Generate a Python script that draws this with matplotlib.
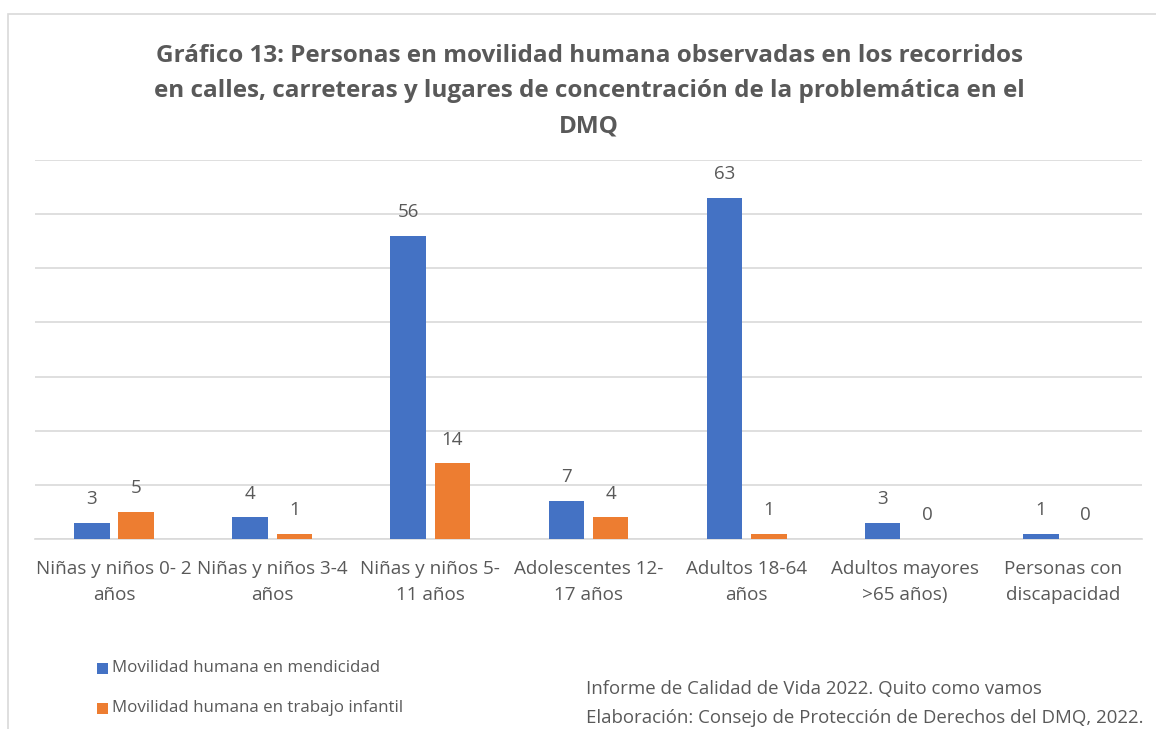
import matplotlib
matplotlib.use("Agg")
import matplotlib.pyplot as plt
from matplotlib.patches import Rectangle
import numpy as np

categories = ["Niñas y niños 0- 2\naños", "Niñas y niños 3-4\naños", "Niñas y niños 5-\n11 años",
              "Adolescentes 12-\n17 años", "Adultos 18-64\naños", "Adultos mayores\n>65 años)",
              "Personas con\ndiscapacidad"]
mendicidad = [3, 4, 56, 7, 63, 3, 1]
trabajo = [5, 1, 14, 4, 1, 0, 0]
series_names = ["Movilidad humana en mendicidad", "Movilidad humana en trabajo infantil"]
title = ("Gráfico 13: Personas en movilidad humana observadas en los recorridos\n"
         "en calles, carreteras y lugares de concentración de la problemática en el\nDMQ")
notes = ["Informe de Calidad de Vida 2022. Quito como vamos",
         "Elaboración: Consejo de Protección de Derechos del DMQ, 2022."]

BLUE = "#4472c4"
ORANGE = "#ed7d31"
TXT = "#595959"
GRID = "#d9d9d9"
plt.rcParams['font.family'] = ['Open Sans', 'DejaVu Sans']

W, H = 1156, 729
fig = plt.figure(figsize=(W/100, H/100), dpi=100)
fig.patch.set_facecolor("white")
# outer chart frame
fig.add_artist(Rectangle((8/W, -0.01), 1.2, 1 - 14/H + 0.01, transform=fig.transFigure,
                         fill=False, edgecolor=GRID, linewidth=1.2))

ax = fig.add_axes([35/W, 1 - 539/H, (1142-35)/W, (539-160)/H])
x = np.arange(len(categories))
w = 0.225
off = 0.14
b1 = ax.bar(x - off, mendicidad, w, color=BLUE, zorder=3)
b2 = ax.bar(x + off, trabajo, w, color=ORANGE, zorder=3)
for bars, vals in ((b1, mendicidad), (b2, trabajo)):
    for r, v in zip(bars, vals):
        ax.annotate(str(v), (r.get_x() + r.get_width()/2, v), xytext=(0, 17),
                    textcoords="offset points", ha="center", va="center",
                    fontsize=13.5, color=TXT)
ax.set_xlim(-0.5, len(categories) - 0.5)
ax.set_ylim(0, 70)
ax.set_yticks(np.arange(0, 71, 10))
ax.yaxis.grid(True, color=GRID, linewidth=1.2, zorder=0)
ax.tick_params(axis="y", left=False, labelleft=False)
ax.tick_params(axis="x", length=0, pad=15)
ax.set_xticks(x)
ax.set_xticklabels(categories, fontsize=13.6, color=TXT, linespacing=1.6)
for s in ["top", "right", "left"]:
    ax.spines[s].set_visible(False)
ax.spines["bottom"].set_color(GRID)
ax.spines["bottom"].set_linewidth(1.2)
ax.spines["bottom"].set_zorder(1)

fig.text(589/W, 1 - 91/H, title, ha="center", va="center", fontsize=17.5,
         fontweight="bold", color=TXT, linespacing=1.62)

# legend
for i, (name, col) in enumerate(zip(series_names, [BLUE, ORANGE])):
    yc = 1 - (668 + 40*i)/H
    fig.add_artist(Rectangle((97/W, yc - 5.5/H), 11/W, 11/H, transform=fig.transFigure,
                             facecolor=col, edgecolor="none"))
    fig.text(112/W, yc, name, ha="left", va="center", fontsize=12.2, color=TXT)

for i, n in enumerate(notes):
    fig.text(586/W, 1 - (689 + 29*i)/H, n, ha="left", va="center", fontsize=13.4, color=TXT)

fig.savefig("out.png", dpi=100, facecolor="white")
